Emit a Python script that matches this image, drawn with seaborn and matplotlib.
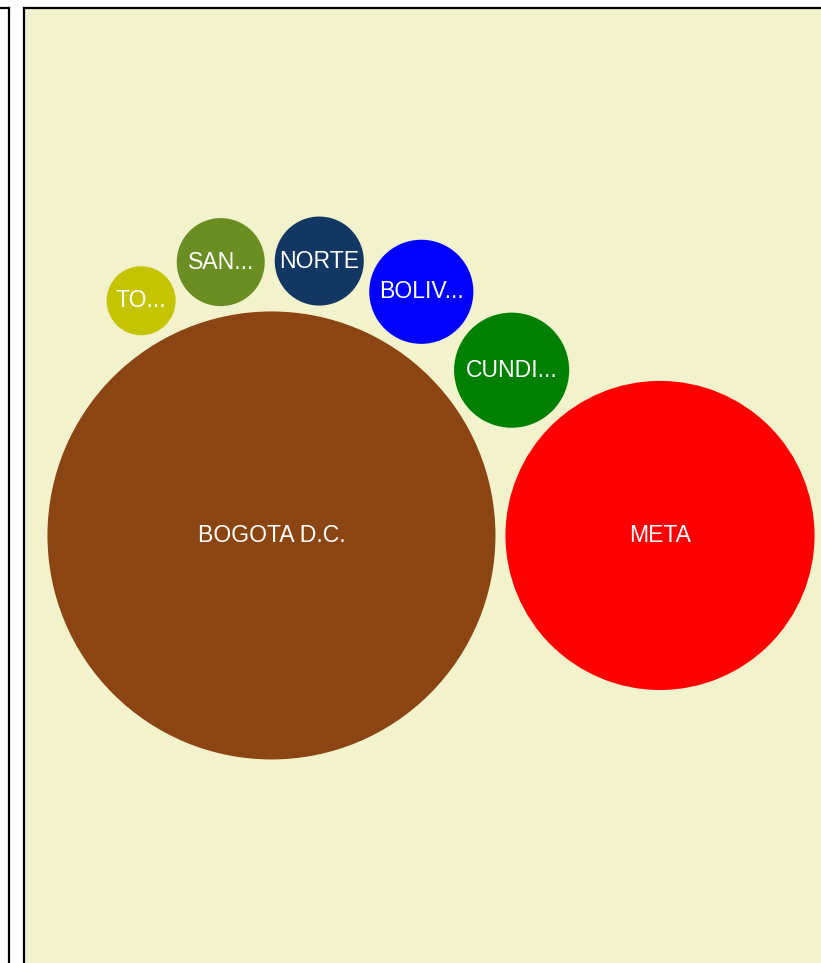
import numpy as np
import pandas as pd
import matplotlib
matplotlib.use("Agg")
import matplotlib.pyplot as plt
import seaborn as sns

# departments, bubble values (area), colours and the shortened labels shown in the bubbles
departments = ["BOGOTA D.C.", "META", "CUNDINAMARCA", "BOLIVAR", "NORTE DE SANTANDER", "SANTANDER", "TOLIMA"]
labels = ["BOGOTA D.C.", "META", "CUNDI...", "BOLIV...", "NORTE", "SAN...", "TO..."]
values = [1000, 476, 66, 54, 39.5, 38.6, 23.7]
colors = ["#8B4513", "#FF0000", "#008000", "#0000FF", "#123763", "#6B8E23", "#C4C400"]

DPI = 100
BIG_R = 224      # radius (px) of the largest bubble
PAD = 10         # gap between bubbles (px)
AX_W, AX_H = 814, 960


def pack(radii, pad):
    # front-chain packing: first circle in the middle, the others tangent to it and the previous one
    pos = [np.array([0.0, 0.0]), np.array([radii[0] + radii[1] + pad, 0.0])]
    for k in range(2, len(radii)):
        a, b = pos[0], pos[k - 1]
        da = radii[0] + radii[k] + pad
        db = radii[k - 1] + radii[k] + pad
        d = np.linalg.norm(b - a)
        t = (da**2 - db**2 + d**2) / (2 * d)
        h = np.sqrt(max(da**2 - t**2, 0))
        u = (b - a) / d
        n = np.array([-u[1], u[0]])
        c1, c2 = a + t * u + h * n, a + t * u - h * n
        # keep going counter-clockwise on screen (y axis points down)
        cross = lambda c: u[0] * (c - a)[1] - u[1] * (c - a)[0]
        pos.append(c1 if cross(c1) < 0 else c2)
    return np.array(pos)


vals = np.array(values, dtype=float)
radii = BIG_R * np.sqrt(vals / vals.max())
xy = pack(radii, PAD)
lo = (xy - radii[:, None]).min(axis=0)
hi = (xy + radii[:, None]).max(axis=0)
xy += np.array([AX_W / 2, AX_H / 2]) - (lo + hi) / 2

df = pd.DataFrame({"dept": departments, "label": labels, "value": vals, "x": xy[:, 0], "y": xy[:, 1]})

fig = plt.figure(figsize=(821 / DPI, 963 / DPI), dpi=DPI)

# neighbouring (empty) panel on the left
side = fig.add_axes([-60 / 821, -5 / 963, 69 / 821, 960 / 963])
side.set_facecolor("white")
side.set_xticks([])
side.set_yticks([])
for s in side.spines.values():
    s.set_linewidth(1.6)
    s.set_color("black")

ax = fig.add_axes([24 / 821, -5 / 963, AX_W / 821, AX_H / 963])
ax.set_facecolor("#F2F2CC")

# marker area in pt^2 proportional to the value, so the diameter matches the pixel radius
k = (2 * BIG_R * 72 / DPI) ** 2 / vals.max()
sns.scatterplot(data=df, x="x", y="y", hue="dept", palette=colors, size="value",
                sizes=(k * vals.min(), k * vals.max()), size_norm=(vals.min(), vals.max()),
                linewidth=0, alpha=1, legend=False, ax=ax, zorder=2)

for _, row in df.iterrows():
    ax.text(row["x"], row["y"], row["label"], ha="center", va="center", color="white",
            fontsize=16.6, family=["Liberation Sans", "DejaVu Sans"], zorder=3)

ax.set_xlim(0, AX_W)
ax.set_ylim(AX_H, 0)
ax.set_xlabel("")
ax.set_ylabel("")
ax.set_xticks([])
ax.set_yticks([])
for s in ax.spines.values():
    s.set_linewidth(1.6)
    s.set_color("black")

fig.savefig("out.png", dpi=DPI)
